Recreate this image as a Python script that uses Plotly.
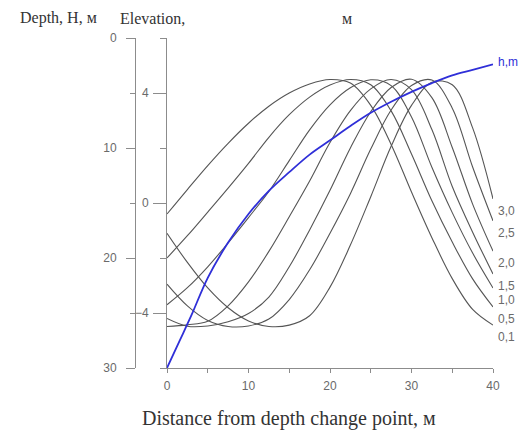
import plotly.graph_objects as go

# ---- data ----
distance = [0, 2.5, 5, 7.5, 10, 12.5, 15, 17.5, 20, 22.5, 25, 27.5, 30, 32.5, 35, 37.5, 40]

curve_labels = ["0,1", "0,5", "1,0", "1,5", "2,0", "2,5", "3,0"]

elev_01 = [-0.40, 0.49, 1.36, 2.17, 2.90, 3.52, 4.00, 4.33, 4.49, 4.36, 3.55, 2.13, 0.40, -1.26, -2.75, -3.87, -4.44]
elev_05 = [-2.00, -1.19, -0.33, 0.54, 1.44, 2.39, 3.21, 3.85, 4.29, 4.49, 4.30, 3.35, 1.78, 0.08, -1.42, -2.76, -3.78]
elev_10 = [-3.70, -3.08, -2.32, -1.45, -0.53, 0.42, 1.54, 2.66, 3.57, 4.19, 4.48, 4.27, 3.13, 1.30, -0.35, -1.82, -3.09]
elev_15 = [-4.49, -4.43, -4.30, -3.74, -2.87, -1.76, -0.50, 0.80, 2.20, 3.36, 4.15, 4.49, 4.12, 2.67, 0.60, -1.06, -2.58]
elev_20 = [-4.20, -4.48, -4.47, -4.32, -4.02, -3.42, -2.32, -0.98, 0.46, 2.00, 3.32, 4.20, 4.50, 3.83, 2.02, -0.04, -1.75]
elev_25 = [-2.95, -3.74, -4.27, -4.49, -4.47, -4.22, -3.51, -2.43, -1.10, 0.34, 1.96, 3.38, 4.27, 4.47, 3.45, 1.31, -0.65]
elev_30 = [-1.10, -2.16, -3.09, -3.81, -4.29, -4.49, -4.44, -4.10, -3.06, -1.53, 0.23, 2.06, 3.55, 4.39, 4.30, 2.73, 0.15]

depth_x = [0, 1.5, 3, 5, 7.5, 10, 12.5, 15, 17.5, 20, 22.5, 25, 27.5, 30, 32.5, 35, 37.5, 40]
depth_h = [30.0, 27.6, 25.2, 21.8, 18.6, 16.0, 13.9, 12.2, 10.6, 9.3, 8.0, 6.8, 5.8, 4.9, 4.1, 3.4, 2.9, 2.4]

x_ticks = [0, 10, 20, 30, 40]
elev_ticks = [-4, 0, 4]
depth_ticks = [0, 10, 20, 30]

series = [elev_01, elev_05, elev_10, elev_15, elev_20, elev_25, elev_30]

# ---- figure ----
W, H = 522, 446
ML, MR, MT, MB = 135, 29, 38, 78
plot_w = W - ML - MR
plot_h = H - MT - MB

def px_x(px):
    return (px - ML) / plot_w

def px_y(py):
    return (H - MB - py) / plot_h

fig = go.Figure()
for lab, vals in zip(curve_labels, series):
    fig.add_trace(go.Scatter(
        x=distance, y=vals, mode="lines", name=lab, yaxis="y",
        line=dict(color="#555555", width=1.1, shape="spline", smoothing=1.0),
        showlegend=False, hoverinfo="skip"))

fig.add_trace(go.Scatter(
    x=depth_x, y=depth_h, mode="lines", name="h,m", yaxis="y2",
    line=dict(color="#2f2fd8", width=1.8, shape="spline", smoothing=1.0),
    showlegend=False, hoverinfo="skip"))

tick_font = dict(family="Liberation Sans, Arial, sans-serif", size=12, color="#6a6a6a")
serif = dict(family="Liberation Serif, Times New Roman, serif", size=16, color="#333333")
serif_big = dict(family="Liberation Serif, Times New Roman, serif", size=20, color="#333333")

annotations = []
for lab, vals in zip(curve_labels, series):
    annotations.append(dict(
        x=distance[-1], y=vals[-1], xref="x", yref="y", text=lab,
        showarrow=False, xanchor="left", yanchor="middle", xshift=3, yshift=-12,
        font=dict(family="Liberation Sans, Arial, sans-serif", size=12, color="#6a6a6a")))

annotations.append(dict(
    x=depth_x[-1], y=depth_h[-1], xref="x", yref="y2", text="h,m",
    showarrow=False, xanchor="left", yanchor="middle", xshift=3, yshift=2,
    font=dict(family="Liberation Sans, Arial, sans-serif", size=12, color="#2f2fd8")))

annotations += [
    dict(x=px_x(18), y=px_y(18), xref="paper", yref="paper", text="Depth, H, м",
         showarrow=False, xanchor="left", yanchor="middle", font=serif),
    dict(x=px_x(118), y=px_y(18), xref="paper", yref="paper", text="Elevation,",
         showarrow=False, xanchor="left", yanchor="middle", font=serif),
    dict(x=px_x(340), y=px_y(18), xref="paper", yref="paper", text="м",
         showarrow=False, xanchor="left", yanchor="middle", font=serif),
    dict(x=px_x(289), y=px_y(418), xref="paper", yref="paper",
         text="Distance from depth change point, м",
         showarrow=False, xanchor="center", yanchor="middle", font=serif_big),
]

axis_line = "#8c8c8c"

fig.update_layout(
    template="none",
    width=W, height=H,
    margin=dict(l=ML, r=MR, t=MT, b=MB, pad=0, autoexpand=False),
    paper_bgcolor="white", plot_bgcolor="white",
    showlegend=False,
    xaxis=dict(
        domain=[px_x(167), 1], range=[0, 40], tickvals=x_ticks,
        showline=True, linecolor=axis_line, linewidth=1,
        ticks="outside", ticklen=4, tickcolor=axis_line,
        minor=dict(dtick=5, ticks="outside", ticklen=4, tickcolor=axis_line),
        ticklabelstandoff=3,
        showgrid=False, zeroline=False, tickfont=tick_font, anchor="y"),
    yaxis=dict(
        range=[-6, 6], tickvals=elev_ticks, anchor="x", side="left",
        showline=True, linecolor=axis_line, linewidth=1,
        ticks="outside", ticklen=13, tickcolor=axis_line,
        minor=dict(dtick=2, ticks="outside", ticklen=6, tickcolor=axis_line),
        ticklabelstandoff=2,
        showgrid=False, zeroline=False, tickfont=tick_font),
    yaxis2=dict(
        range=[30, 0], tickvals=depth_ticks, overlaying="y", anchor="free",
        position=0, side="left",
        showline=True, linecolor=axis_line, linewidth=1,
        ticks="outside", ticklen=9, tickcolor=axis_line,
        minor=dict(dtick=5, ticks="outside", ticklen=5, tickcolor=axis_line),
        ticklabelstandoff=7,
        showgrid=False, zeroline=False, tickfont=tick_font),
    annotations=annotations,
)

fig.write_html("out.html", config={"displayModeBar": False},
               post_script="document.body.style.margin='0px';document.body.style.overflow='hidden';")
